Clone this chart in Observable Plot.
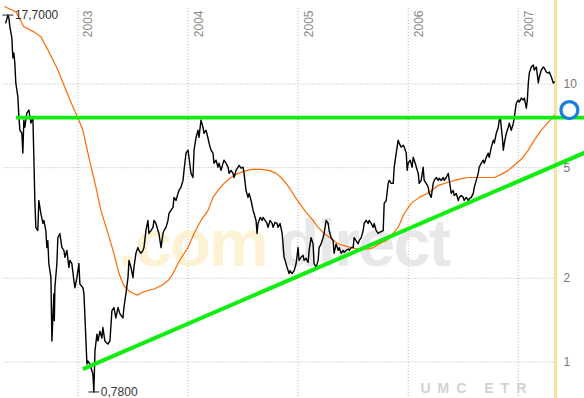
<!DOCTYPE html>
<html>
<head>
<meta charset="utf-8">
<script src="https://cdn.jsdelivr.net/npm/d3@7"></script>
<script src="https://cdn.jsdelivr.net/npm/@observablehq/plot@0.6"></script>
<style>
  html, body { margin: 0; padding: 0; background: #fff; }
  #chart svg { display: block; }
</style>
</head>
<body>
<div id="chart"></div>
<script>
// ---- data (decimal year, price in EUR) ----
const price = [
[2002.345,16.60],[2002.364,17.70],[2002.373,17.31],[2002.382,16.06],[2002.400,14.65],[2002.409,12.42],[2002.418,12.94],[2002.427,11.91],[2002.436,10.09],[2002.455,8.97],[2002.464,7.60],[2002.473,6.82],[2002.491,6.65],[2002.500,5.64],[2002.509,7.41],[2002.518,6.99],[2002.536,7.86],[2002.555,8.06],[2002.573,7.23],[2002.591,7.60],[2002.600,5.45],[2002.609,3.81],[2002.618,3.05],[2002.636,2.97],[2002.645,3.81],[2002.664,3.42],[2002.682,3.15],[2002.691,3.23],[2002.709,2.97],[2002.718,2.58],[2002.727,2.73],[2002.736,2.26],[2002.755,2.01],[2002.764,1.19],[2002.782,1.76],[2002.786,1.41],[2002.791,1.85],[2002.809,2.26],[2002.818,2.80],[2002.836,2.90],[2002.855,2.58],[2002.873,2.52],[2002.882,2.38],[2002.900,2.52],[2002.918,2.19],[2002.927,2.32],[2002.945,2.26],[2002.964,1.96],[2002.973,1.85],[2002.991,2.01],[2003.009,2.26],[2003.018,1.91],[2003.045,1.85],[2003.055,1.76],[2003.082,0.983],[2003.091,1.008],[2003.109,0.983],[2003.136,0.905],[2003.145,0.78],[2003.155,1.096],[2003.173,1.26],[2003.182,1.19],[2003.200,1.29],[2003.218,1.22],[2003.227,1.33],[2003.245,1.19],[2003.273,1.16],[2003.291,1.19],[2003.309,1.53],[2003.327,1.57],[2003.345,1.44],[2003.364,1.57],[2003.382,1.49],[2003.409,1.44],[2003.418,1.57],[2003.436,1.76],[2003.455,2.01],[2003.464,2.32],[2003.482,2.19],[2003.500,2.01],[2003.509,2.19],[2003.527,2.46],[2003.545,2.58],[2003.555,2.52],[2003.573,2.46],[2003.591,2.52],[2003.600,2.58],[2003.618,2.97],[2003.636,3.23],[2003.645,2.90],[2003.664,2.97],[2003.682,3.05],[2003.691,3.23],[2003.709,3.15],[2003.727,2.97],[2003.736,2.90],[2003.755,2.58],[2003.773,2.90],[2003.782,2.97],[2003.800,3.05],[2003.818,3.23],[2003.827,3.42],[2003.845,3.51],[2003.864,3.60],[2003.873,3.91],[2003.891,3.81],[2003.909,4.04],[2003.918,4.14],[2003.936,4.25],[2003.955,4.50],[2003.964,4.89],[2003.982,5.64],[2004.000,5.78],[2004.009,5.45],[2004.027,4.77],[2004.045,4.61],[2004.055,5.78],[2004.073,6.43],[2004.091,6.82],[2004.100,6.43],[2004.118,7.41],[2004.136,6.99],[2004.145,6.65],[2004.164,6.82],[2004.182,6.38],[2004.191,6.13],[2004.209,5.78],[2004.227,5.64],[2004.236,5.19],[2004.255,5.32],[2004.273,5.02],[2004.282,5.19],[2004.300,4.89],[2004.318,5.19],[2004.327,5.32],[2004.345,5.19],[2004.364,5.02],[2004.373,4.77],[2004.391,4.89],[2004.409,4.77],[2004.418,4.61],[2004.436,4.89],[2004.455,5.02],[2004.464,5.10],[2004.482,4.98],[2004.500,5.02],[2004.509,4.77],[2004.527,4.14],[2004.545,3.91],[2004.555,4.04],[2004.573,3.81],[2004.591,3.51],[2004.600,3.42],[2004.618,3.23],[2004.627,2.90],[2004.636,3.15],[2004.655,3.31],[2004.673,3.23],[2004.682,3.31],[2004.700,3.23],[2004.718,3.15],[2004.727,3.05],[2004.745,3.23],[2004.764,3.15],[2004.773,3.05],[2004.791,3.18],[2004.809,3.15],[2004.818,3.05],[2004.836,3.15],[2004.855,2.90],[2004.873,2.38],[2004.882,2.32],[2004.900,2.19],[2004.918,2.08],[2004.927,2.13],[2004.945,2.08],[2004.964,2.13],[2004.982,2.26],[2005.000,2.58],[2005.009,2.32],[2005.027,2.38],[2005.045,2.42],[2005.055,2.32],[2005.073,2.36],[2005.091,2.28],[2005.100,2.52],[2005.118,2.80],[2005.136,2.66],[2005.145,2.26],[2005.164,2.19],[2005.182,2.32],[2005.191,2.58],[2005.209,2.66],[2005.227,2.80],[2005.236,2.90],[2005.255,3.23],[2005.273,3.15],[2005.282,2.97],[2005.300,2.80],[2005.318,2.73],[2005.327,2.46],[2005.345,2.66],[2005.364,2.52],[2005.373,2.58],[2005.391,2.46],[2005.409,2.52],[2005.418,2.48],[2005.436,2.52],[2005.455,2.55],[2005.464,2.52],[2005.482,2.58],[2005.500,2.58],[2005.509,2.80],[2005.527,2.73],[2005.545,2.66],[2005.555,2.73],[2005.573,2.80],[2005.591,2.97],[2005.600,3.15],[2005.618,3.23],[2005.636,3.15],[2005.645,3.23],[2005.664,3.15],[2005.682,3.05],[2005.691,3.15],[2005.709,2.97],[2005.727,2.90],[2005.736,2.92],[2005.773,2.97],[2005.782,3.72],[2005.800,3.81],[2005.818,4.39],[2005.827,4.50],[2005.845,4.39],[2005.864,4.39],[2005.873,5.02],[2005.891,5.64],[2005.909,6.28],[2005.918,6.13],[2005.936,5.93],[2005.955,6.02],[2005.964,5.93],[2005.982,5.64],[2005.991,4.89],[2006.000,5.19],[2006.018,5.32],[2006.036,5.02],[2006.045,5.45],[2006.064,5.19],[2006.082,4.89],[2006.091,4.77],[2006.100,4.39],[2006.118,4.50],[2006.136,5.02],[2006.145,4.50],[2006.164,4.39],[2006.182,4.25],[2006.191,4.04],[2006.209,3.91],[2006.227,4.39],[2006.236,4.50],[2006.255,4.61],[2006.273,4.50],[2006.282,4.58],[2006.300,4.50],[2006.318,4.61],[2006.327,4.50],[2006.345,4.61],[2006.364,4.77],[2006.373,4.50],[2006.391,4.04],[2006.409,4.14],[2006.418,3.97],[2006.436,4.04],[2006.455,3.81],[2006.464,3.91],[2006.482,3.97],[2006.500,3.91],[2006.509,3.81],[2006.527,3.91],[2006.545,3.81],[2006.555,3.87],[2006.573,3.91],[2006.591,4.04],[2006.600,4.25],[2006.618,4.50],[2006.636,4.77],[2006.645,5.02],[2006.664,5.19],[2006.682,5.32],[2006.691,5.19],[2006.709,5.45],[2006.727,5.64],[2006.736,5.45],[2006.755,5.93],[2006.773,6.28],[2006.782,6.13],[2006.800,6.65],[2006.818,6.99],[2006.827,7.41],[2006.836,7.60],[2006.855,6.43],[2006.864,5.78],[2006.873,6.13],[2006.891,6.65],[2006.909,6.99],[2006.918,7.23],[2006.936,6.82],[2006.955,7.23],[2006.964,7.60],[2006.982,8.53],[2007.000,8.75],[2007.009,8.61],[2007.027,8.90],[2007.045,8.75],[2007.055,8.90],[2007.073,8.19],[2007.082,8.75],[2007.091,10.09],[2007.100,10.95],[2007.118,11.51],[2007.136,11.71],[2007.145,11.23],[2007.164,11.51],[2007.182,10.09],[2007.191,10.60],[2007.209,11.23],[2007.227,11.51],[2007.236,11.42],[2007.255,11.04],[2007.273,10.95],[2007.282,11.04],[2007.300,10.60],[2007.318,10.09],[2007.327,10.17]
];
const movingAverage = [
[2002.336,18.97],[2002.436,18.19],[2002.509,16.06],[2002.600,15.40],[2002.664,14.78],[2002.727,13.27],[2002.818,11.23],[2002.891,9.51],[2002.955,8.26],[2003.009,7.41],[2003.045,6.82],[2003.100,5.45],[2003.164,4.25],[2003.209,3.51],[2003.273,2.90],[2003.327,2.46],[2003.373,2.08],[2003.418,1.88],[2003.464,1.80],[2003.509,1.76],[2003.545,1.74],[2003.573,1.77],[2003.618,1.80],[2003.691,1.83],[2003.755,1.88],[2003.818,1.96],[2003.864,2.08],[2003.909,2.26],[2003.936,2.36],[2004.000,2.58],[2004.055,2.90],[2004.118,3.23],[2004.182,3.51],[2004.227,3.91],[2004.273,4.14],[2004.327,4.39],[2004.391,4.61],[2004.455,4.77],[2004.509,4.85],[2004.573,4.93],[2004.664,4.93],[2004.736,4.89],[2004.800,4.77],[2004.845,4.61],[2004.891,4.39],[2004.936,4.14],[2004.982,3.87],[2005.027,3.66],[2005.073,3.45],[2005.136,3.23],[2005.182,3.05],[2005.236,2.90],[2005.300,2.78],[2005.364,2.66],[2005.418,2.62],[2005.482,2.58],[2005.545,2.55],[2005.591,2.55],[2005.636,2.55],[2005.682,2.58],[2005.736,2.66],[2005.800,2.73],[2005.845,2.85],[2005.909,3.05],[2005.964,3.42],[2006.027,3.72],[2006.100,3.91],[2006.191,4.07],[2006.273,4.32],[2006.364,4.43],[2006.455,4.54],[2006.545,4.61],[2006.636,4.61],[2006.727,4.61],[2006.782,4.61],[2006.845,4.73],[2006.909,4.89],[2006.964,5.10],[2007.027,5.36],[2007.091,5.78],[2007.145,6.28],[2007.209,6.82],[2007.273,7.29],[2007.327,7.73]
];
const yearTicks = [2003, 2004, 2005, 2006, 2007];
const priceTicks = [1, 2, 5, 10];
const high = [2002.364, 17.70];
const low = [2003.145, 0.78];
const resistance = {from: 2002.442, to: 2007.62, level: 7.57};
const trendLine = {x1: 2003.045, y1: 0.943, x2: 2007.62, y2: 5.70};
const target = [2007.464, 8.06];
const todayDate = 2007.338;
const symbol = "UMC ETR";

const fmt = v => v.toFixed(4).replace(".", ",");
const x0 = 2002.297, pxPerYear = 110.1;

const chart = Plot.plot({
  width: 584,
  height: 398,
  margin: 0,
  x: {domain: [x0, x0 + 584 / pxPerYear], axis: null},
  y: {type: "log", domain: [0.739, 19.97], axis: null},
  style: {fontFamily: "'Liberation Sans', Arial, sans-serif", background: "#fff"},
  marks: [
    Plot.ruleY(priceTicks, {x1: 2002.33, x2: todayDate - 0.01, stroke: "#b4b4c2", strokeDasharray: "1,2"}),
    Plot.ruleX(yearTicks, {stroke: "#b4b4c2", strokeDasharray: "1,2", insetTop: 8}),
    Plot.text([".com"], {text: d => d, frameAnchor: "top-left", dx: 266, dy: 218, textAnchor: "end", fontSize: 67, fontWeight: "bold", fill: "#fcefc8", fillOpacity: 0.8}),
    Plot.text(["direct"], {text: d => d, frameAnchor: "top-left", dx: 278, dy: 218, textAnchor: "start", fontSize: 67, fontWeight: "bold", fill: "#dedede", fillOpacity: 0.7}),
    Plot.text([symbol], {text: d => d, frameAnchor: "top-left", dx: 420, dy: 383, textAnchor: "start", fontSize: 14, fontWeight: "bold", fill: "#d2d2d2"}),
    Plot.ruleX([todayDate], {stroke: "#f6dc90", strokeWidth: 3, strokeOpacity: 0.85}),
    Plot.text(yearTicks, {x: d => d, text: d => String(d), frameAnchor: "top", rotate: -90, textAnchor: "end", dx: 6, dy: 10, fontSize: 12, fill: "#8a8a8a"}),
    Plot.text(priceTicks, {y: d => d, text: d => String(d), frameAnchor: "right", dx: -21, textAnchor: "start", fontSize: 12, fill: "#777"}),
    Plot.line(movingAverage, {x: d => d[0], y: d => d[1], stroke: "#ff6a00", strokeWidth: 1.2}),
    Plot.line(price, {x: d => d[0], y: d => d[1], stroke: "#000", strokeWidth: 1.4}),
    Plot.ruleY([resistance], {y: d => d.level, x1: d => d.from, x2: d => d.to, stroke: "#10ee10", strokeWidth: 3.6}),
    Plot.link([trendLine], {x1: "x1", y1: "y1", x2: "x2", y2: "y2", stroke: "#10ee10", strokeWidth: 4}),
    Plot.dot([target], {x: d => d[0], y: d => d[1], r: 8.5, stroke: "#1a7ee0", strokeWidth: 3.3, fill: "#fff"}),
    Plot.link([high, low], {x1: d => d[0] - 0.05, x2: d => d[0] + 0.05, y1: d => d[1], y2: d => d[1], stroke: "#222", strokeWidth: 1}),
    Plot.text([high, low], {x: d => d[0], y: d => d[1], text: d => fmt(d[1]), dx: 7, textAnchor: "start", fontSize: 12, fill: "#333"})
  ]
});
// letter spacing for watermark and symbol labels
chart.querySelectorAll("text").forEach(t => {
  const s = t.textContent;
  if (s === ".com" || s === "direct") t.style.letterSpacing = "-2px";
  if (s === symbol) t.style.letterSpacing = "7px";
});
document.getElementById("chart").append(chart);
</script>
</body>
</html>
